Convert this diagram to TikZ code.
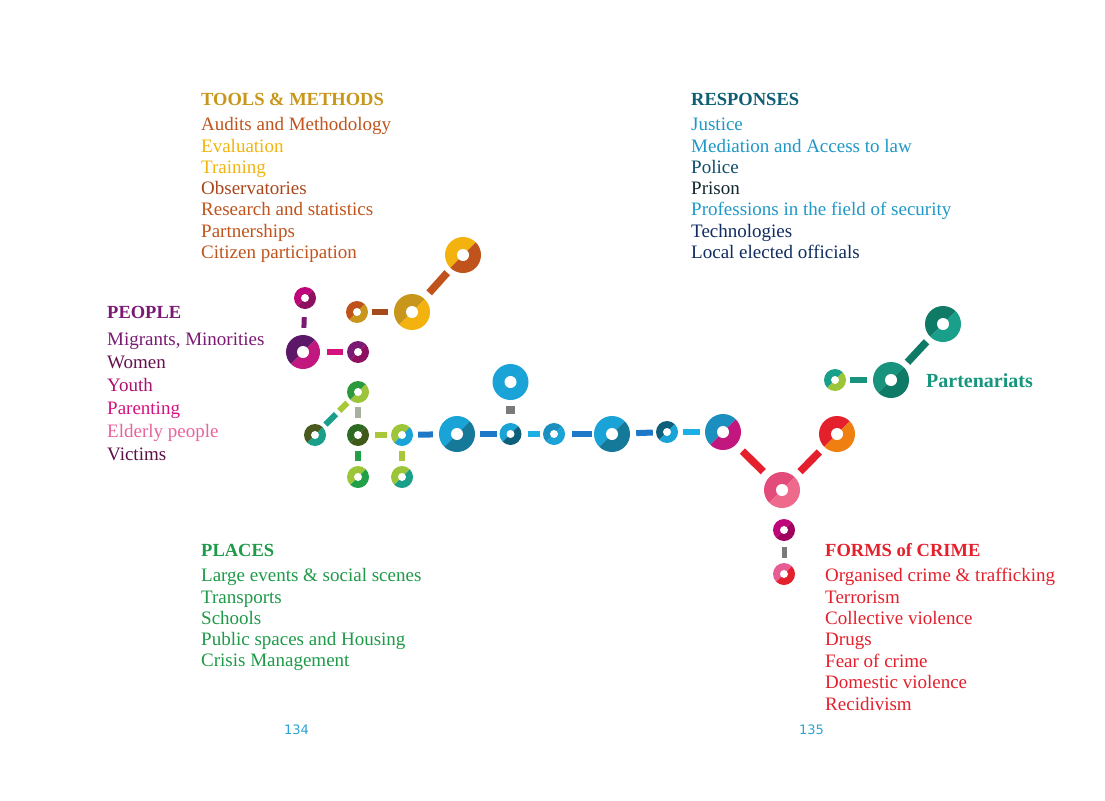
\documentclass[tikz,border=0pt]{standalone}
\usepackage{fontspec}
\setmainfont{Liberation Serif}
\newfontfamily\pagefont{DejaVu Sans}
\usepackage{tikz}
\usetikzlibrary{positioning}
% text colours
\definecolor{toolgold}{RGB}{200, 150, 26}
\definecolor{toolrust}{RGB}{192, 84, 28}
\definecolor{toolyellow}{RGB}{242, 180, 14}
\definecolor{toolbrown}{RGB}{170, 70, 28}
\definecolor{resphead}{RGB}{15, 94, 117}
\definecolor{respblue}{RGB}{30, 152, 200}
\definecolor{respteal}{RGB}{14, 78, 106}
\definecolor{respdark}{RGB}{18, 38, 46}
\definecolor{respnavy}{RGB}{16, 44, 96}
\definecolor{peoplepurple}{RGB}{123, 26, 115}
\definecolor{peopleplum}{RGB}{100, 18, 80}
\definecolor{peoplemagenta}{RGB}{170, 16, 110}
\definecolor{peoplepink}{RGB}{214, 18, 126}
\definecolor{peoplerose}{RGB}{232, 100, 156}
\definecolor{peopledark}{RGB}{92, 16, 72}
\definecolor{placegreen}{RGB}{30, 154, 72}
\definecolor{crimered}{RGB}{227, 32, 44}
\definecolor{partteal}{RGB}{23, 150, 126}
\definecolor{pageblue}{RGB}{43, 163, 213}
% ring colours
\definecolor{magenta1}{RGB}{192, 4, 122}
\definecolor{plum1}{RGB}{142, 16, 96}
\definecolor{purple1}{RGB}{92, 23, 104}
\definecolor{purple2}{RGB}{123, 26, 115}
\definecolor{magenta2}{RGB}{194, 23, 127}
\definecolor{magenta3}{RGB}{212, 18, 126}
\definecolor{gold1}{RGB}{200, 150, 26}
\definecolor{yellow1}{RGB}{244, 178, 14}
\definecolor{rust1}{RGB}{192, 83, 28}
\definecolor{rust2}{RGB}{165, 74, 27}
\definecolor{green1}{RGB}{43, 154, 60}
\definecolor{green2}{RGB}{34, 160, 72}
\definecolor{lime1}{RGB}{156, 197, 58}
\definecolor{lime2}{RGB}{168, 200, 58}
\definecolor{olive1}{RGB}{74, 90, 30}
\definecolor{forest1}{RGB}{46, 107, 34}
\definecolor{forest2}{RGB}{63, 90, 24}
\definecolor{teal1}{RGB}{26, 160, 138}
\definecolor{teal2}{RGB}{23, 147, 126}
\definecolor{teal3}{RGB}{15, 122, 102}
\definecolor{sky1}{RGB}{25, 163, 214}
\definecolor{sky2}{RGB}{26, 176, 230}
\definecolor{petrol1}{RGB}{21, 122, 154}
\definecolor{petrol2}{RGB}{14, 95, 122}
\definecolor{blue1}{RGB}{30, 120, 200}
\definecolor{blue2}{RGB}{26, 143, 192}
\definecolor{red1}{RGB}{227, 32, 44}
\definecolor{orange1}{RGB}{240, 127, 18}
\definecolor{pink1}{RGB}{227, 76, 122}
\definecolor{pink2}{RGB}{238, 106, 140}
\definecolor{pink3}{RGB}{232, 92, 149}
\definecolor{wine1}{RGB}{160, 0, 94}
\definecolor{grey1}{RGB}{168, 176, 160}
\definecolor{grey2}{RGB}{122, 122, 122}
\tikzset{
    ring/.style n args={3}{circle, inner sep=0pt, path picture={
        \fill[#1] (path picture bounding box.center) -- ++(45:30pt) arc[start angle=45, end angle=225, radius=30pt] -- cycle;
        \fill[#2] (path picture bounding box.center) -- ++(225:30pt) arc[start angle=225, end angle=405, radius=30pt] -- cycle;
        \fill[white] (path picture bounding box.center) circle[radius=#3];
    }},
    bigring/.style 2 args={ring={#1}{#2}{6pt}, minimum size=36pt},
    smallring/.style 2 args={ring={#1}{#2}{4pt}, minimum size=22pt},
    link/.style={line width=6pt, shorten <=5pt, shorten >=5pt},
    slant/.style={line width=7.5pt, shorten <=7pt, shorten >=7pt},
    heading/.style={anchor=base west, inner sep=0pt, font=\fontsize{18.5}{21}\selectfont\bfseries},
    listitem/.style={anchor=base west, inner sep=0pt, font=\fontsize{19}{21}\selectfont},
    pagenum/.style={anchor=base west, inner sep=0pt, text=pageblue, font=\pagefont\fontsize{13}{15}\selectfont}
}
\begin{document}
\begin{tikzpicture}[x=1pt, y=-1pt]

    \fill[white] (0,0) rectangle (1105,800);
    \useasboundingbox (0,0) rectangle (1105,800);

    % headings and lists
    \node (toolshead) [heading, text=toolgold] at (201,105) {TOOLS \& METHODS};
    \foreach \txt/\col [count=\i from 0] in {Audits and Methodology/toolrust, Evaluation/toolyellow, Training/toolyellow, Observatories/toolbrown, Research and statistics/toolrust, Partnerships/toolrust, Citizen participation/toolrust}
        \node (tool\i) [listitem, text=\col] at (201,{130.7+21.3*\i}) {\txt};

    \node (resphead) [heading, text=resphead] at (691,105) {RESPONSES};
    \foreach \txt/\col [count=\i from 0] in {Justice/respblue, Mediation and Access to law/respblue, Police/respteal, Prison/respdark, Professions in the field of security/respblue, Technologies/respnavy, Local elected officials/respnavy}
        \node (resp\i) [listitem, text=\col] at (691,{130.7+21.3*\i}) {\txt};

    \node (peoplehead) [heading, text=peoplepurple] at (107,318) {PEOPLE};
    \foreach \txt/\col [count=\i from 0] in {{Migrants, Minorities}/peoplepurple, Women/peopleplum, Youth/peoplemagenta, Parenting/peoplepink, Elderly people/peoplerose, Victims/peopledark}
        \node (people\i) [listitem, text=\col] at (107,{345+23*\i}) {\txt};

    \node (placehead) [heading, text=placegreen] at (201,556.7) {PLACES};
    \foreach \txt [count=\i from 0] in {Large events \& social scenes, Transports, Schools, Public spaces and Housing, Crisis Management}
        \node (place\i) [listitem, text=placegreen] at (201,{581.7+21.3*\i}) {\txt};

    \node (crimehead) [heading, text=crimered] at (825,556.7) {FORMS of CRIME};
    \foreach \txt [count=\i from 0] in {Organised crime \& trafficking, Terrorism, Collective violence, Drugs, Fear of crime, Domestic violence, Recidivism}
        \node (crime\i) [listitem, text=crimered] at (825,{581.7+21.4*\i}) {\txt};

    \node (parthead) [heading, text=partteal, font=\fontsize{20}{22}\selectfont\bfseries] at (926,387) {Partenariats};

    \node (pgleft)  [pagenum] at (284,734) {134};
    \node (pgright) [pagenum] at (799,734) {135};

    % people
    \node (P1) [smallring={magenta1}{plum1}] at (305,298) {};
    \node (P2) [bigring={purple1}{magenta2}, minimum size=34pt] at (303,352) {};
    \node (P3) [smallring={purple2}{plum1}] at (358,352) {};

    % tools
    \node (T1) [smallring={rust1}{gold1}] at (357,312) {};
    \node (T2) [bigring={gold1}{yellow1}] at (412,312) {};
    \node (T3) [bigring={yellow1}{rust1}] at (463,255) {};

    % places
    \node (G1) [smallring={green1}{lime1}] at (358,392) {};
    \node (G2) [smallring={olive1}{teal1}] at (315,435) {};
    \node (G3) [smallring={forest1}{forest2}] at (358,435) {};
    \node (G4) [smallring={lime1}{sky1}] at (402,435) {};
    \node (G5) [smallring={lime1}{green2}] at (358,477) {};
    \node (G6) [smallring={lime1}{teal1}] at (402,477) {};

    % responses
    \node (B1) [bigring={sky1}{petrol1}] at (457,434) {};
    \node (Btop) [bigring={sky1}{sky1}] at (510.5,382) {};
    \node (B2) [smallring={sky1}{petrol2}] at (510.5,434) {};
    \node (B3) [smallring={blue2}{sky1}] at (554,434) {};
    \node (B4) [bigring={sky1}{petrol1}] at (612,434) {};
    \node (B5) [smallring={petrol2}{sky1}] at (667,432) {};
    \node (B6) [bigring={blue2}{magenta2}] at (723,432) {};

    % forms of crime
    \node (C1) [bigring={pink1}{pink2}] at (782,490) {};
    \node (C2) [bigring={red1}{orange1}] at (837,434) {};
    \node (C3) [smallring={magenta1}{wine1}] at (784,530) {};
    \node (C4) [smallring={pink3}{red1}] at (784,574) {};

    % partnerships
    \node (K1) [smallring={teal1}{lime1}] at (835,380) {};
    \node (K2) [bigring={teal2}{teal3}] at (891,380) {};
    \node (K3) [bigring={teal3}{teal1}] at (943,324) {};

    % links
    \draw [link, purple2, line width=5pt, shorten <=8pt, shorten >=7pt] (P1) -- (P2);
    \draw [link, magenta3, shorten <=7pt, shorten >=4pt] (P2) -- (P3);
    \draw [link, rust2, shorten <=4pt, shorten >=6pt] (T1) -- (T2);
    \draw [slant, rust1, shorten <=7.5pt, shorten >=5.5pt] (T2) -- (T3);

    \draw [link, teal1, shorten <=3.5pt, shorten >=20pt] (G2) -- (G1);
    \draw [link, lime2, shorten <=23pt, shorten >=4pt] (G2) -- (G1);
    \draw [link, grey1, shorten <=4pt, shorten >=6pt] (G1) -- (G3);
    \draw [link, lime2, shorten <=6pt, shorten >=4pt] (G3) -- (G4);
    \draw [link, green2] (G3) -- (G5);
    \draw [link, lime2] (G4) -- (G6);
    \draw [link, blue1, shorten <=5pt, shorten >=6pt] (G4) -- (B1);

    \draw [link, blue1, shorten <=5pt, shorten >=2pt] (B1) -- (B2);
    \draw [link, grey2, line width=9pt, shorten <=5.5pt, shorten >=8.5pt] (Btop) -- (B2);
    \draw [link, sky2, shorten <=6pt, shorten >=3pt] (B2) -- (B3);
    \draw [link, blue1, shorten <=7pt, shorten >=2pt] (B3) -- (B4);
    \draw [link, blue1, shorten <=6pt, shorten >=3pt] (B4) -- (B5);
    \draw [link, sky2] (B5) -- (B6);

    \draw [slant, red1, shorten <=9pt, shorten >=8pt] (B6) -- (C1);
    \draw [slant, red1, shorten <=7.5pt, shorten >=7pt] (C1) -- (C2);
    \draw [link, grey2, line width=5pt, shorten <=6pt, shorten >=5pt] (C3) -- (C4);

    \draw [link, teal2, shorten <=4pt, shorten >=6pt] (K1) -- (K2);
    \draw [slant, teal3, shorten <=6pt, shorten >=6pt] (K2) -- (K3);

\end{tikzpicture}
\end{document}
